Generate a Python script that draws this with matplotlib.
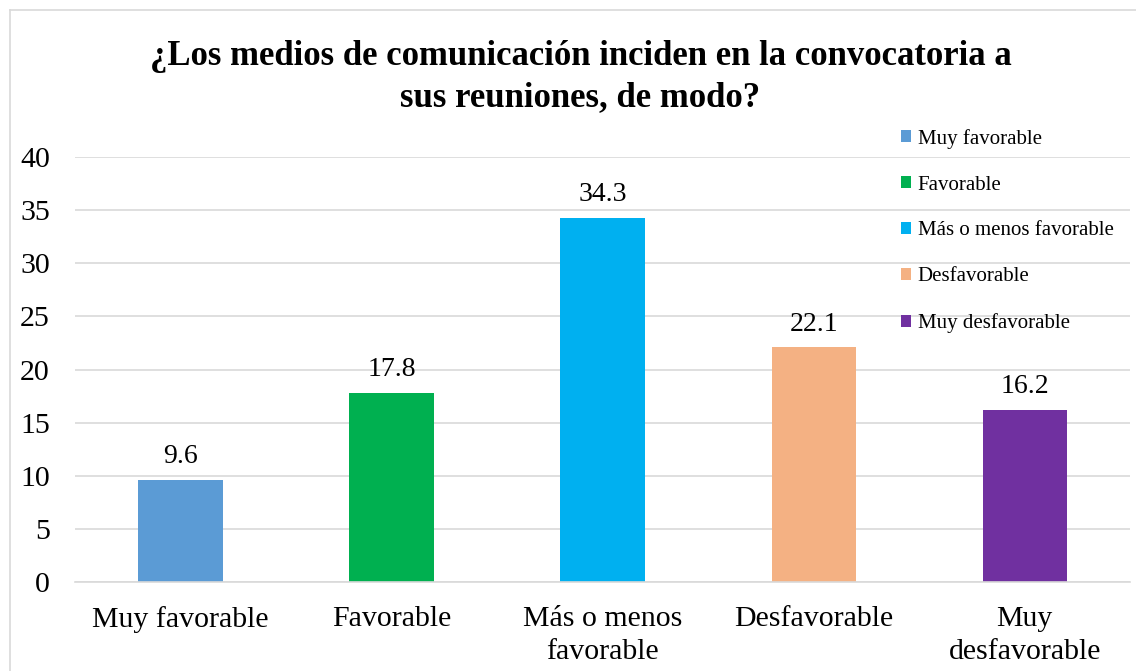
import matplotlib

matplotlib.use("Agg")
import matplotlib.pyplot as plt
import numpy as np

categories = ["Muy favorable", "Favorable", "Más o menos favorable",
              "Desfavorable", "Muy desfavorable"]
tick_labels = ["Muy favorable", "Favorable", "Más o menos\nfavorable",
               "Desfavorable", "Muy\ndesfavorable"]
values = [9.6, 17.8, 34.3, 22.1, 16.2]
colors = ["#5B9BD5", "#00B050", "#00B0F0", "#F4B183", "#7030A0"]
title = "¿Los medios de comunicación inciden en la convocatoria a\nsus reuniones, de modo?"

plt.rcParams["font.family"] = ["Liberation Serif", "DejaVu Serif"]

fig = plt.figure(figsize=(11.36, 6.71), dpi=100)
ax = fig.add_axes([0.066, 0.1326, 0.929, 0.6334])

x = np.arange(len(values))
bars = ax.bar(x, values, width=0.4, color=colors, label=categories, zorder=2)
for rect, v in zip(bars, values):
    ax.text(rect.get_x() + rect.get_width() / 2, v + 1.0, f"{v:.1f}",
            ha="center", va="bottom", fontsize=20, color="#000000")

ax.set_xlim(-0.5, len(values) - 0.5)
ax.set_ylim(0, 40)
ax.set_yticks(range(0, 41, 5))
ax.set_xticks(x, tick_labels)
ax.tick_params(axis="both", length=0, labelsize=21.5, colors="#000000")
ax.tick_params(axis="x", pad=17)
ax.tick_params(axis="y", pad=18)
for lbl in ax.get_xticklabels():
    lbl.set_linespacing(1.35)
ax.yaxis.grid(True, color="#D9D9D9", linewidth=1.2, zorder=0)
ax.set_axisbelow(True)
for side in ("top", "right", "left"):
    ax.spines[side].set_visible(False)
ax.spines["bottom"].set_color("#D9D9D9")
ax.spines["bottom"].set_linewidth(1.2)

fig.text(0.511, 0.885, title, ha="center", va="center", fontsize=25,
         fontweight="bold", linespacing=1.3)

leg = ax.legend(loc="upper left", bbox_to_anchor=(0.793, 0.808),
                bbox_transform=fig.transFigure, frameon=False, fontsize=15,
                handlelength=0.5, handleheight=0.5, handletextpad=0.3,
                labelspacing=1.29, borderaxespad=0, borderpad=0)

# light frame around the chart area
fig.add_artist(plt.Line2D([10 / 1136, 10 / 1136], [0, 1 - 10 / 671],
                          transform=fig.transFigure, color="#D9D9D9", linewidth=1.2))
fig.add_artist(plt.Line2D([10 / 1136, 1], [1 - 10 / 671, 1 - 10 / 671],
                          transform=fig.transFigure, color="#D9D9D9", linewidth=1.2))

fig.savefig("out.png", dpi=100)
